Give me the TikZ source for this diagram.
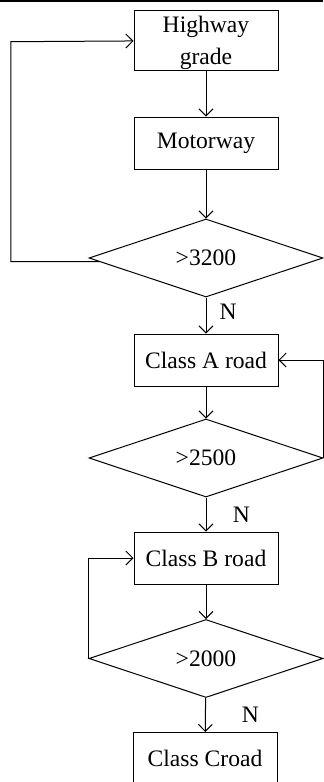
\documentclass[tikz,border=0pt]{standalone}
\usepackage{fontspec}
\setmainfont{Liberation Serif}
\usetikzlibrary{positioning,shapes.geometric,arrows.meta}

\begin{document}
\begin{tikzpicture}[node distance={50pt}, line width=0.5pt,
  >={Straight Barb[length=3.5pt,width=7pt]},
  font=\fontsize{11.8}{16}\selectfont,
  main/.style = {draw, minimum width=72pt, minimum height=26pt, inner sep=0pt},
  cond/.style = {draw, diamond, aspect=3, minimum width=117pt, minimum height=39pt, inner sep=0pt}]
\useasboundingbox (0,0) rectangle (161.5pt,-391pt);
\draw[line width=1pt] (0,-0.5pt) -- (161.5pt,-0.5pt);
\node[main, minimum height=26.5pt, align=center] (1) at (103pt,-20.25pt) {\rule{0pt}{11pt}Highway\\grade};
\node[main] (2) [below of=1, yshift=-1.25pt] {Motorway};
\node[cond] (3) [below of=2, yshift=-7.5pt] {>3200};
\node[main] (4) [below of=3, yshift=-1pt] {Class A road};
\node[cond] (5) [below of=4, yshift=1pt] {>2500};
\node[main] (6) [below of=5] {Class B road};
\node[cond] (7) [below of=6, yshift=-0.25pt] {>2000};
\node[main] (8) [below of=7, xshift=-0.5pt] {Class Croad};
\coordinate (9) at (5.4pt,-20.85pt);
\draw[->] (1) -- (2);
\draw[->] (2) -- (3);
\draw[->] (3) -- node[right=6.5pt, yshift=2pt, inner sep=0pt] {N} (4);
\draw[->] (4) -- (5);
\draw[->] (5) -- node[right=13.2pt, inner sep=0pt] {N} (6);
\draw[->] (6) -- (7);
\draw[->] (7) -- node[right=18pt, inner sep=0pt] {N} (8);
\draw[->] (3.182) -| (9) -- (1);
\draw[->] (5.east) |- (4);
\draw[->] (7.west) |- (6);
\end{tikzpicture}
\end{document}
